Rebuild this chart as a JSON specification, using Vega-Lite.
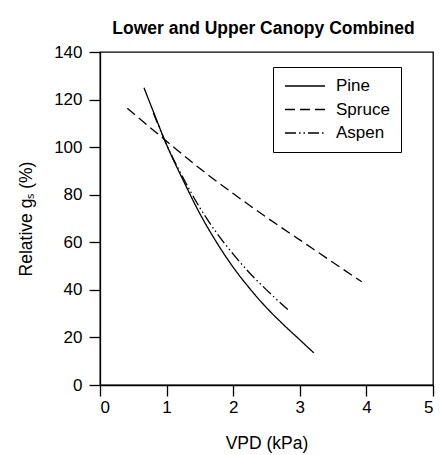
{
  "$schema": "https://vega.github.io/schema/vega-lite/v6.json",
  "autosize": {"type": "none"},
  "padding": {"left": 100, "top": 52, "right": 7, "bottom": 70},
  "width": 333,
  "height": 333,
  "background": "white",
  "title": {
    "text": "Lower and Upper Canopy Combined",
    "font": "Liberation Sans",
    "fontSize": 17.5,
    "fontWeight": "bold",
    "color": "black",
    "anchor": "middle",
    "offset": 6,
    "dx": -3
  },
  "config": {
    "view": {"stroke": "black", "strokeWidth": 1.3},
    "axis": {
      "grid": false,
      "domainColor": "black",
      "domainWidth": 1.3,
      "tickColor": "black",
      "tickWidth": 1.3,
      "tickSize": 11,
      "labelFont": "Liberation Sans",
      "labelFontSize": 17,
      "labelColor": "black",
      "titleFont": "Liberation Sans",
      "titleFontSize": 17.5,
      "titleFontWeight": "normal",
      "titleColor": "black"
    },
    "legend": {
      "labelFont": "Liberation Sans",
      "labelFontSize": 17,
      "labelColor": "black"
    }
  },
  "data": {
    "values": [
      {"species": "Pine", "vpd": 0.66, "gs": 125},
      {"species": "Pine", "vpd": 0.8, "gs": 115},
      {"species": "Pine", "vpd": 1.0, "gs": 101},
      {"species": "Pine", "vpd": 1.25, "gs": 86},
      {"species": "Pine", "vpd": 1.5, "gs": 72},
      {"species": "Pine", "vpd": 1.75, "gs": 60},
      {"species": "Pine", "vpd": 2.0, "gs": 49.5},
      {"species": "Pine", "vpd": 2.25, "gs": 40.5},
      {"species": "Pine", "vpd": 2.5, "gs": 32.5},
      {"species": "Pine", "vpd": 2.75, "gs": 25.5},
      {"species": "Pine", "vpd": 3.0, "gs": 19},
      {"species": "Pine", "vpd": 3.21, "gs": 13.5},
      {"species": "Spruce", "vpd": 0.41, "gs": 116.3},
      {"species": "Spruce", "vpd": 1.0, "gs": 102.5},
      {"species": "Spruce", "vpd": 1.5, "gs": 91},
      {"species": "Spruce", "vpd": 2.0, "gs": 80.5},
      {"species": "Spruce", "vpd": 2.5, "gs": 70.5},
      {"species": "Spruce", "vpd": 3.0, "gs": 61},
      {"species": "Spruce", "vpd": 3.5, "gs": 51.5},
      {"species": "Spruce", "vpd": 3.93, "gs": 43.4},
      {"species": "Aspen", "vpd": 0.8, "gs": 114.5},
      {"species": "Aspen", "vpd": 1.0, "gs": 101},
      {"species": "Aspen", "vpd": 1.25, "gs": 87},
      {"species": "Aspen", "vpd": 1.5, "gs": 74.5},
      {"species": "Aspen", "vpd": 1.75, "gs": 64},
      {"species": "Aspen", "vpd": 2.0, "gs": 55},
      {"species": "Aspen", "vpd": 2.25, "gs": 47},
      {"species": "Aspen", "vpd": 2.5, "gs": 40},
      {"species": "Aspen", "vpd": 2.84, "gs": 31.2}
    ]
  },
  "mark": {"type": "line", "color": "black", "strokeWidth": 1.3, "interpolate": "monotone"},
  "encoding": {
    "x": {
      "field": "vpd",
      "type": "quantitative",
      "scale": {"domain": [0, 5], "nice": false},
      "axis": {"values": [0, 1, 2, 3, 4, 5], "title": "VPD (kPa)", "labelPadding": 3, "titlePadding": 19}
    },
    "y": {
      "field": "gs",
      "type": "quantitative",
      "scale": {"domain": [0, 140], "nice": false},
      "axis": {"values": [0, 20, 40, 60, 80, 100, 120, 140], "title": "Relative gₛ (%)", "labelPadding": 7, "titlePadding": 18}
    },
    "strokeDash": {
      "field": "species",
      "type": "nominal",
      "scale": {
        "domain": ["Pine", "Spruce", "Aspen"],
        "range": [[1, 0], [10, 5], [11, 3, 1.5, 3, 1.5, 3]]
      },
      "legend": {
        "title": null,
        "orient": "none",
        "legendX": 173,
        "legendY": 15,
        "strokeColor": "black",
        "fillColor": "white",
        "padding": 11,
        "symbolType": "stroke",
        "symbolSize": 1600,
        "symbolStrokeWidth": 1.3,
        "symbolStrokeColor": "black",
        "labelOffset": 10,
        "clipHeight": 16,
        "rowPadding": 6.5
      }
    }
  }
}
